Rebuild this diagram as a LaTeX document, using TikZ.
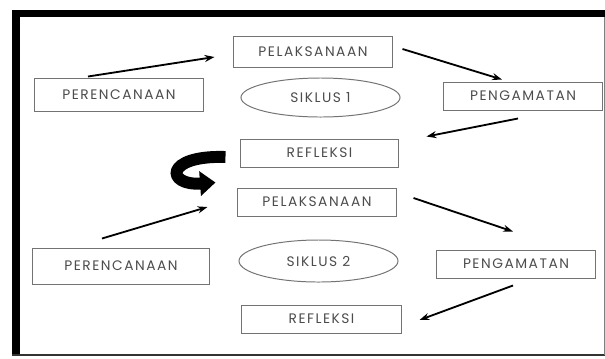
\documentclass[tikz,border=0pt]{standalone}
\usepackage{fontspec}
\setmainfont{Poppins}[LetterSpace=11]
\usetikzlibrary{calc,shapes.geometric,arrows.meta}
\tikzset{
	kotak/.style={draw=black!55, line width=0.7pt, inner sep=0pt, minimum height=0.7cm, text=black!70, font=\fontsize{9.8}{11}\selectfont},
	siklus/.style={kotak, ellipse, minimum width=3.975cm},
	panah/.style={line width=1.3pt, -{Stealth[length=7pt,width=5pt]}},
}

\begin{document}
\begin{tikzpicture}[x=0.025cm, y=-0.025cm]
			%%%%% START %%%%%
			\useasboundingbox (0, 0) rectangle (605, 358);
			
			% bingkai
			\fill[black] (12, 10) rectangle (605, 17);
			\fill[black] (12, 10) rectangle (20, 356);
			\draw[line width=1pt, black!80] (12, 355) -- (605, 355);
			\draw[line width=0.6pt, black!50] (604, 17) -- (604, 355);
			
			% siklus 1
			\node[kotak, minimum width=3.95cm, minimum height=0.775cm] (pel1) at (313, 51.5) {PELAKSANAAN};
			\node[kotak, minimum width=4.2cm, minimum height=0.825cm] (per1) at (119, 94.5) {PERENCANAAN};
			\node[siklus, minimum height=0.975cm] (sik1) at (320.5, 97.5) {SIKLUS 1};
			\node[kotak, minimum width=3.95cm] (pen1) at (523, 96) {PENGAMATAN};
			\node[kotak, minimum width=3.925cm] (ref1) at (319.5, 153) {REFLEKSI};
			
			\draw[panah] ($(per1.north)+(-31, -1)$) -- ($(pel1.west)+(-19, 5.5)$);
			\draw[panah] ($(pel1.east)+(10, -2.5)$) -- ($(pen1.north)+(-21, -2)$);
			\draw[panah] ($(pen1.south)+(-5, 8)$) -- ($(ref1.north east)+(28, -2)$);
			
			% siklus 2
			\node[kotak, minimum width=3.95cm] (pel2) at (317, 202) {PELAKSANAAN};
			\node[kotak, minimum width=4.4cm, minimum height=0.9cm] (per2) at (121, 266) {PERENCANAAN};
			\node[siklus, minimum height=1.05cm] (sik2) at (318.5, 261) {SIKLUS 2};
			\node[kotak, minimum width=3.95cm] (pen2) at (516, 264) {PENGAMATAN};
			\node[kotak, minimum width=3.975cm] (ref2) at (321.5, 319) {REFLEKSI};
			
			\draw[panah] ($(per2.north)+(-19, -9)$) -- ($(pel2.west)+(-30, 5)$);
			\draw[panah] ($(pel2.east)+(17, -4)$) -- ($(pen2.north)+(-3, -18)$);
			\draw[panah] ($(pen2.south)+(-3, 7)$) -- ($(ref2.east)+(18, 1)$);
			
			% panah tebal antar siklus
			\draw[line width=8.5pt, -{Triangle[length=11pt,width=17pt]}] ($(ref1.west)+(-15, 4)$) .. controls (164, 155) and (166, 186) .. ($(pel2.north west)+(-22, -5)$);
			
			%%%%% END %%%%%
		\end{tikzpicture}
\end{document}
